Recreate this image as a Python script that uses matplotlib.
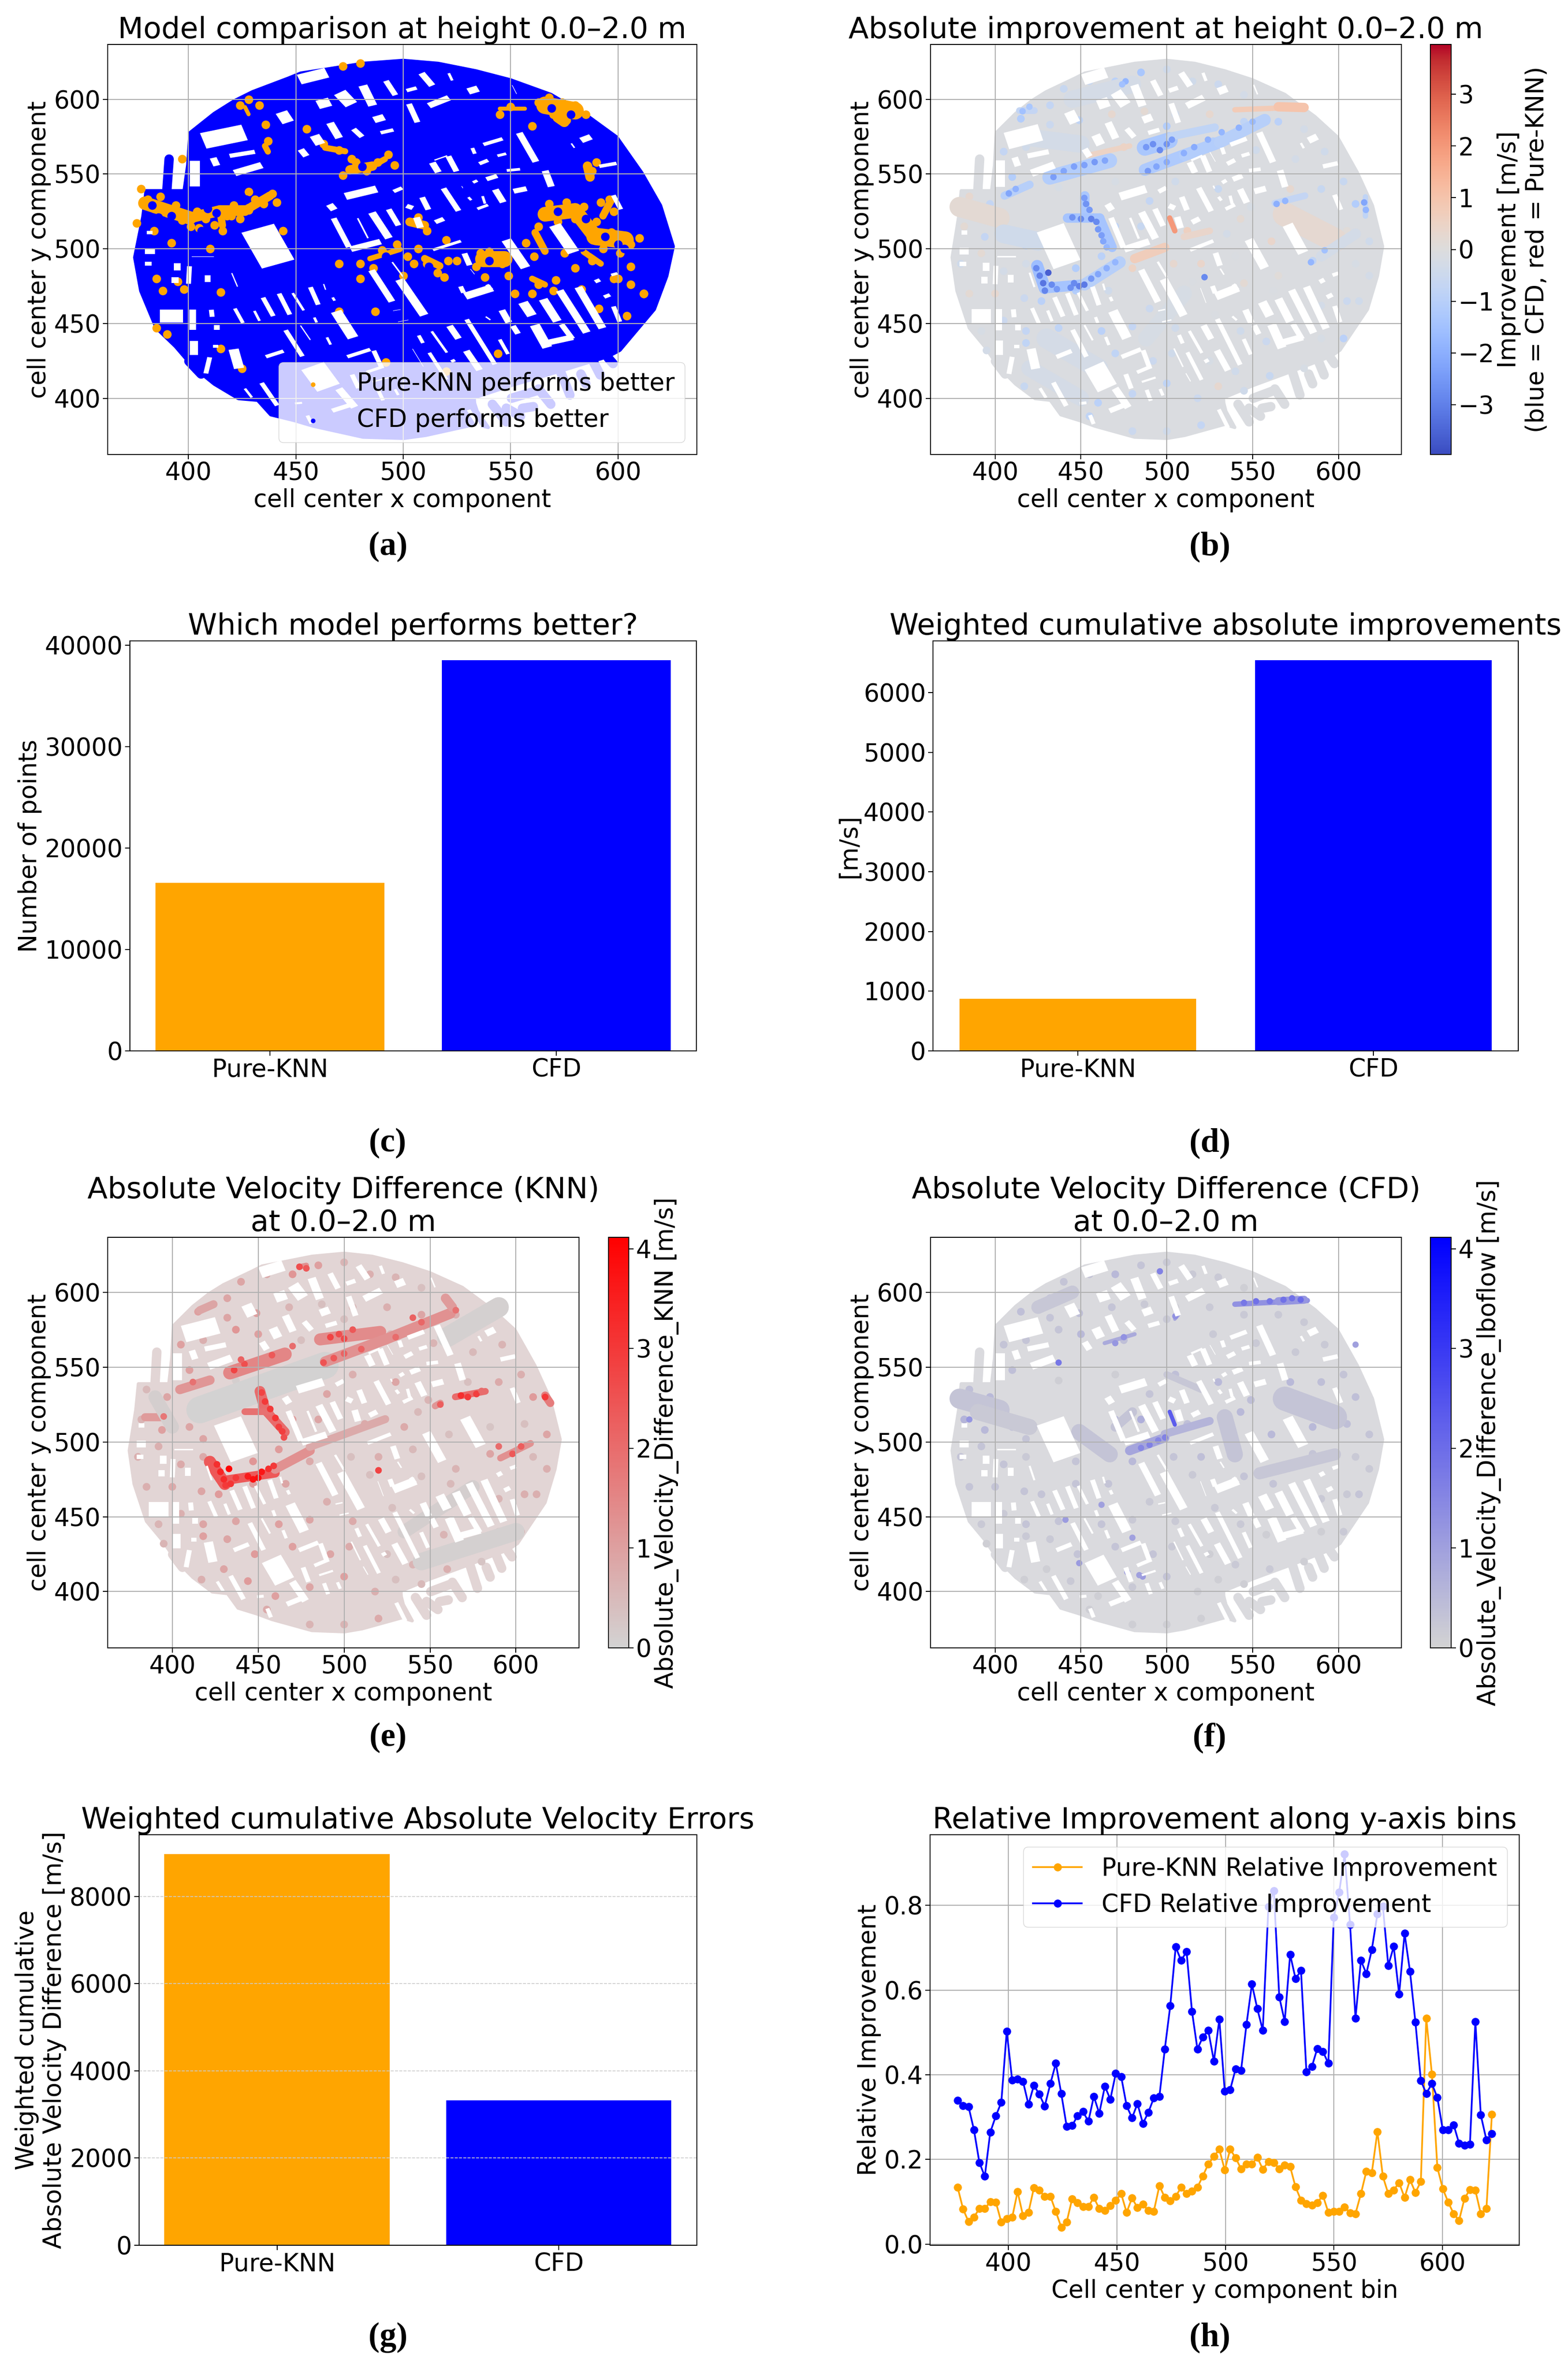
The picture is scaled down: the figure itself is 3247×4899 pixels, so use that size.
import numpy as np
import matplotlib
matplotlib.use('Agg')
import matplotlib.pyplot as plt
from matplotlib.colors import LinearSegmentedColormap, Normalize
from matplotlib.collections import LineCollection, PolyCollection
from matplotlib.cm import ScalarMappable

W, H = 3248, 4899
XY_LIM = (362.4, 636.7)

outline_x = [452.3,463.8,481.3,500,516.3,533.8,549.9,568.8,586.3,599.4,611,619.8,625.7,622.7,616.9,600.9,595.5,585.6,573.4,550.4,533,533.2,534.4,539.6,533.8,510.5,500.3,481.3,458,449.3,438.3,432.2,423.3,412,406.4,400,393.9,385,377.8,375,378.8,380.3,391.9,398,399.7,400.7,412,421.4,429.8,446.7]
outline_y = [617.5,620,624,626,624,619,613,603.2,588.4,574.7,551,528.9,501.6,481.8,459.5,432.2,428,423.7,418.3,408.6,400.3,396.8,391.4,380.5,382.6,375.2,373.2,374,381.4,385.1,389,398.7,399.8,409.5,416,424.5,434.7,447,471.9,494.2,521.4,538.8,538.8,538.8,556,577.6,590.5,599,605,614.2]

# streets sticking out of the edge (x0, y0, x1, y1)
stubs = [(541.5,396,548,384.2),(548,393.4,554.6,388),(555.5,393.3,560.6,394.4),(563,406.2,568.7,396),
         (573.4,417.2,577.6,402.2),(582.7,416.2,585,409.7),(588.4,424.8,591.7,415.6),(595.4,427,597.7,423.2),
         (550.4,400,563,405.4),(400.2,424.8,405.9,416.2),(390,540,391,560)]

# buildings, white gaps in the map (x0, y0, x1, y1, width)
buildings = [
    (406.3,572,426.7,578,12),(451,613,465,618,8),(443,592,446.7,584,7),(470,598.4,476.3,602.6,11),
    (481,609.8,486,595.2,5.5),(459.6,596,466.5,598.6,7),(491.7,612.9,496.6,602.2,4),(485.8,585.9,491.7,588.3,5.5),
    (465.7,584.8,470.4,573.5,5),(476.5,580.6,481.2,574.4,4),(488.9,577.4,496,579.7,3.5),(458.4,576.4,461.7,569.3,6),
    (452,567,455.2,561.4,4.5),(418.6,562,431.5,565,4),(420.9,550.4,434.7,556.2,5.5),(411.3,561.4,413.4,555,4.5),
    (403,559.5,403,541,6),(472.5,534.8,488.2,540.2,6),(464.7,526.6,468.8,529.1,5.5),(467.4,521,474.9,500.5,4),
    (478.6,521,483.8,506.5,2),(485.2,524.8,493.6,506.5,5),(475,499.5,490,505,5),(493,527,498,515,4),
    (495,538,500,541,3.5),(432,514.3,442,489.2,17.5),(508.2,618,513.8,608.6,4.5),(529.7,605,535.4,607.4,5.5),
    (511.4,595.4,521.8,601.3,5),(502.5,597.5,506.8,584,4),(521,618,523,612,2.5),(501,605.6,506.8,607.8,3.5),
    (536.8,569.5,546.8,573.8,3.5),(553.8,578.1,562,557.6,4.5),(582.3,572.2,587.9,575.2,5),(578,571,580,567,2),
    (590.7,555,599.9,557.3,3.5),(513.3,558.2,516.6,550.6,4.5),(520.8,562.5,525,551.2,4),(514,559,521,562.5,2),
    (525,565,528.5,558,1),(532,568,533.5,563,3),(543.3,562,548.5,563.8,3),(534.9,556.6,540,559.5,3.5),
    (547.6,552.3,555,553.3,3),(565.9,552.8,569.1,541,4.5),(538.2,546.3,544.3,549,4),(532,544,535,546,3),
    (527,542.5,528,540,1.5),(550.8,538.3,558,540.4,4.5),(542.6,540.2,546.8,530.5,4.5),(518.5,541,526,524.8,4),
    (530,535,532,532,2.5),(536.8,535.8,538.2,529.6,2.5),(534,526.4,540,529.6,3),(508.6,535,511.9,525.6,4),
    (501,529,505,527,4),(514.4,517.5,519.4,520.3,4),(506,521.6,508.2,513.5,4.5),(513.3,499,527.4,505.4,3),
    (547.7,506.5,557.2,486.8,6),(570.3,516.4,579.6,497,7),(597.6,536.4,601.5,525.8,3.5),(550.5,610,553,603,1.5),
    (528.3,497.5,531.1,488.4,4),(531,487,533.5,482.4,1.5),(498,480,510,455,5.5),(519.5,474,523,463.5,1),
    (528.3,468,541.9,474.1,6),(526.5,475.4,528.3,470,3.5),(538.6,476.5,541.5,472.2,3),(545.7,459.5,549.4,450.1,4.5),
    (550.8,449,553.7,442.6,4),(555.5,464.7,560.2,454.7,6),(564.9,466.8,572,450.9,5.5),(561,449.6,567.3,433.4,6),
    (565.4,436.6,579.5,441,5),(573.4,450,579,439.2,4),(572.6,472.7,585.7,443.4,5),(581.3,474.9,593,446.3,5),
    (588.8,477.6,592.1,479.5,3.5),(596.3,482.2,600.3,483.8,3),(593,467.4,596.8,469.5,3.5),(597.7,462,601,450.6,3.5),
    (538,455,541,452,2),(529.3,453.3,542.9,422.1,3.5),(521.3,449,526,439.3,4.5),(507,442.6,509.4,436.4,3),
    (513,445.3,520.6,430,2.5),(544.7,439.9,549,429,3),(504.1,433.6,509.6,420.7,1.5),(511.9,431,520.4,412,3),
    (521.8,424.2,524.6,425.9,3),(529.1,432.3,535.8,418.3,4.5),(511,417,514,411,1.2),(530.2,392.8,535.8,380,3),
    (401,494.8,412.5,494.8,1.5),(400.5,488.9,400,476,3.5),(409,483,409,477,4),(420,484.3,423,474.1,1.8),
    (414.5,487,419.5,473,0.6),(434.5,467.9,439.7,454.4,3.5),(442,470.6,447.4,455.4,3.5),(448.3,470.9,453.9,458.2,2.5),
    (421.4,460.6,425.6,449.8,3),(430.5,459,433.3,451.2,2.5),(402,460,402,445,4.5),(386,455,398,455,10),
    (410.6,459.8,411.1,453.9,3.5),(413.2,449.6,413.2,445,4),(458.4,454.6,459.9,450.1,2.5),(456.6,474.9,460.6,462,3.5),
    (462.8,477,464,472,1.8),(466.9,468,468.3,464.7,2.5),(468.5,458.7,476.9,439.9,6.5),(485,486.2,495,464.1,4.5),
    (494.6,491.6,500.2,480.8,2),(494.7,458.4,499.4,459.5,1.5),(497,451,503,452.5,1.5),(451.9,449.2,457,438.5,1.8),
    (445,446.1,453.3,427.5,3.5),(464.3,441.3,466.4,435.3,2.5),(435.5,427.5,444.8,431.8,3.5),(410.8,434.7,414.4,434.7,3),
    (402.5,438.8,402.5,428.5,5),(410,428,408,416,3.5),(420.9,433.4,423.7,419.4,6),(433.8,410.8,441.6,394.6,3.5),
    (426,407,429.8,400,2.5),(449,396.5,453.5,397,2.5),(457.5,422.1,465.5,406.5,13),(469.7,406.9,477.7,393.5,5),
    (466.4,391.4,478.1,396.8,4),(473.4,427.5,485.2,432.9,3.5),(486.1,432.4,490.3,419.4,3.5),(482.4,417.2,490.3,421,3),
    (476,416.4,479.4,406.2,3.5),(485.2,410.8,493.8,414,2),(488.2,405.9,490.8,398,3),(496,406.5,497.9,401.6,2.5),
    (455.2,389,457.5,382.5,3),(380,511,384,511,3.5),(379,498.5,385,498.5,5),(379,490,383.5,490,3.5),
    (392.5,488,397,488,6),(391.5,479,396,479,5),
]

# panel a: areas where Pure-KNN wins (x0, y0, x1, y1, line width)
knn_zones = [(379.7,530.5,400.7,520.6,20),(400.7,520.6,414.7,525.6,16),(414.7,525.6,426.3,525.6,16),(426.3,525.6,438,535.5,13),
             (415.8,515.7,414.7,525.6,11),(566,523.1,580,525.6,22),(580,525.6,589.3,508.3,22),(589.3,508.3,603.3,505.8,26),
             (566,596,580,592.3,26),(572,588,575,585,16),(475.2,552.8,485.7,555.3,14),(485.7,555.3,491.5,560,9),
             (484.5,493.4,498.5,499.6,8),(537,493.4,547,493.4,24),(510,493.4,517,488.5,11),(585.8,555.3,587,548,14),
             (561.4,510.8,566,498.4,11),(503,518,510,515.7,13),(463.6,567.6,473,565.2,9),(426.3,594.8,428,590,6),
             (435.6,568.8,437,565,9),(545,593.6,556.7,593.6,6),(597,533,593,522,11),(584,498,592,490,9),(560,480,566,476,9)]
knn_x = [381,384,387,390,394,397,401,404,408,412,416,418,421,424,428,431,435,439,441,376,563,568,572,576,580,584,586,590,593,597,601,606,598,592,610,588,580,571,560,557,561,563,568,574,580,585,570,576,472,478,483,488,493,496,480,486,491,497,502,507,511,516,521,534,540,546,549,536,511,507,520,463,470,476,428,424,437,388,385,415,395,600,612,606,604,560,550,545,472,480,590,588,596,425,415,470,487,492,544,520,378,460,384,392,398,405,410,420,428,436,444,470,480,490,500,505,519,525,538,545,552,563,570,575,583,591,598,606,612,385,390,397,433,455]
knn_y = [533,527,535,524,529,519,515,525,520,516,512,522,529,520,526,533,530,537,531,517,515,530,518,531,520,528,512,518,500,511,497,503,525,531,507,492,487,479,470,504,495,598,601,598,596,590,590,586,549,558,552,558,563,556,490,487,497,503,495,500,490,484,492,488,498,490,482,497,512,521,506,570,566,560,600,596,572,472,480,471,478,480,470,488,455,582,595,590,622,624,558,552,533,420,433,458,458,424,430,418,540,420,512,504,473,514,500,522,538,583,512,490,480,499,482,490,481,492,481,491,470,476,472,497,473,460,480,476,470,447,443,560,596,580]
cfd_over_x = [383,392,399,406,413,420,427,433,572,579,585,594,600,569,578,481,492,512,540,588,566,603,386,409,583]
cfd_over_y = [529,522,530,512,524,512,533,524,525,514,520,508,503,594,590,555,495,488,492,500,510,500,521,527,501]

# positions of the tinted dots shown in b, e and f, row by row from the top of the map
tint_x = [440,455,470,485,500,515,530,545,432, 415,432,449,468,487,505,525,545,565,580, 405,418,437,450,475,500,527,552,575,592,603,
          385,397,410,437,470,490,505,530,549,572,590,610, 382,394,410,418,470,485,512,535,543,561,585,605,618,
          380,392,405,418,447,462,480,504,520,540,565,585,610,618, 385,400,417,427,447,466,490,515,545,562,590,605,612,
          392,405,418,437,462,480,505,528,543,558,590,603, 395,418,432,448,470,492,503,525,540,560,580,
          417,430,444,460,480,500,518,530,545,455,480,500,520]
tint_y = [607,612,612,618,620,612,610,603,596, 587,583,586,590,592,590,590,585,585,580, 565,568,575,572,568,582,572,566,560,565,545,
          535,530,548,541,545,532,545,540,528,540,540,530, 515,508,510,502,515,515,512,510,520,505,510,512,505,
          490,497,485,490,487,495,487,490,490,495,482,492,490,482, 470,470,467,465,472,472,460,478,477,472,462,465,465,
          445,452,445,447,445,448,447,456,445,438,440,440, 432,437,435,425,430,425,430,425,418,415,420,
          408,415,407,397,403,410,400,408,405,388,378,378,382]
tint_b = [-.6,-.5,-.9,-1.3,-.4,-.4,-.5,-.3,-.7, -1.1,-.5,-.8,.3,.2,-.4,.3,-.8,-.9,-.3, -.7,-.4,-.9,-1,.5,-1.1,-1,-.4,-.3,-.4,-.6,
          .3,-.7,-1.1,-.2,-.2,-.7,-.4,-.6,-.2,.3,-.6,-1.1, .2,-.7,-1,-.8,-.8,-.6,.6,-.3,.2,.4,.4,.1,-.4,
          -.4,.2,-.3,-.3,-1.1,-.9,.5,.3,.4,-.1,.1,-.8,-.2,-.3, .2,.3,-.5,-.9,-1.1,-.4,-.5,-.1,.2,-.1,-.3,-.5,-.4,
          -.2,-.5,-.7,-.8,-.9,-.7,-.4,-.1,-.4,-.5,-.2,-.9, -.3,-.8,-.6,-.9,-.8,-.5,-.4,-.2,-.4,-.6,-.2,
          -.6,-.5,-.9,-.9,-.7,-.8,-.5,.3,-.4,-.8,-.5,-.4,-.7]
tint_e = [.9,.8,1.2,1.0,.6,.7,.6,.4,.9, 1.0,.9,1.0,.6,.4,.5,.7,.9,.7,.5, 1.0,.7,1.2,1.0,.4,.4,.5,.6,.5,.6,.7,
          .5,.9,1.0,.1,.1,.9,.7,.9,.6,.4,.8,1.1, .6,1.0,.9,.9,1.0,.9,.8,.8,.5,.4,.3,.4,.9,
          .7,.7,.8,.8,1.2,1.1,.8,.4,.7,.5,.6,.9,.5,.7, .7,.8,.9,1.1,1.1,.9,.7,.4,.4,.5,.6,.7,.7,
          .6,.7,.9,.9,1.0,.9,.8,.4,.7,.6,.4,1.0, .6,1.0,.9,1.1,1.0,.9,.8,.4,.6,.7,.3,
          .7,.9,1.1,1.0,.9,1.0,.7,.4,.5,.8,.6,.6,.8]
tint_f = [.3,.3,.5,.3,.2,.2,.2,.1,.4, .4,.3,.4,.3,.2,.1,.2,.2,.2,.2, .3,.3,.3,.5,.4,.2,.2,.2,.2,.2,.3,
          .4,.5,.4,.1,.1,.3,.4,.5,.4,.5,.4,.4, .6,.5,.4,.3,.5,.7,.4,.5,.5,.5,.5,.4,.3,
          .3,.3,.3,.2,.3,.6,.5,.3,.4,.4,.5,.3,.2,.2, .3,.3,.3,.3,.3,.3,.2,.2,.3,.3,.2,.2,.3,
          .2,.2,.3,.3,.3,.2,.2,.2,.2,.1,.1,.2, .1,.2,.2,.3,.3,.3,.2,.1,.2,.2,.1,
          .1,.1,.2,.1,.2,.3,.1,.1,.1,.1,.1,.1,.1]

# panel b: bands of improvement (x0, y0, x1, y1, value, line width)
impr_bands = [(431.8,547.8,466.8,559,-1.1,22),(487.2,567.6,501.7,572.6,-1.3,24),(487.2,552.8,510.5,562.7,-1.2,18),(510.5,562.7,530.9,571.3,-1.1,18),
              (530.9,571.3,557.1,586.2,-1.0,18),(501.7,575,528,581.2,-.8,12),(405.5,535.5,420.1,542.9,-1,12),(414.3,592.3,423,592.3,-0.7,10),
              (452.2,535.6,452.2,525.6,-1.3,14),(442,520.6,460.9,520.6,-1.4,14),(460.9,520.6,468.2,500.9,-1.4,14),(424.5,488.5,428.9,473.7,-1.6,18),
              (428.9,473.7,452.2,476.1,-1.4,16),(452.2,476.1,472.6,491,-1.0,18),(563,530.5,580.5,535.5,-0.7,10),(615.5,535,615.5,522,-0.8,8),
              (539.7,593,580.5,594.8,0.8,8),(565,595,580,594.5,1.0,14),(501.7,520.6,504.7,512,2.0,8),(481.3,493.4,498.8,500.9,0.7,14),
              (478.4,568.8,455,562.7,0.5,8),(568.8,523,597.9,505.8,0.25,36),(379.3,528,402.6,520.6,0.2,30),(510,508,525,512,0.4,10),
              (405,510,425,505,-0.4,28),(430,440,460,420,-0.25,30),(590,495,610,510,-0.3,16),(420,420,450,400,-0.25,24),(488,440,510,470,-0.2,24),
              (445,600,480,610,-0.25,26),(416,575,450,570,-0.3,26)]
impr_x = [424,426,428,431,429,433,436,444,449,452,446,456,460,465,470,452,453,455,445,450,456,459,460,462,463,465,434,440,446,452,458,464,488,492,496,500,503,489,494,500,510,516,524,532,542,550,408,412,564,569,615,616,522,584,592,416,420,476,474]
impr_y = [487,482,477,484,472,476,473,474,475,476,477,480,483,487,491,534,530,526,521,520,520,518,513,509,505,501,548,552,555,556,558,559,568,570,566,570,573,552,555,558,564,568,573,578,581,585,537,540,530,532,531,526,481,491,499,592,595,612,610]
impr_v = [-2.8,-3.0,-3.2,-3.6,-2.9,-2.8,-2.5,-2.7,-3.0,-3.1,-2.8,-2.5,-2.2,-2,-1.8,-2.4,-2.6,-2.5,-2.6,-2.8,-3.0,-2.8,-2.5,-2.4,-2.2,-1.8,-2.4,-2.2,-2.3,-2.3,-2.5,-2.2,-2.5,-2.7,-2.8,-2.6,-2.4,-2.5,-2.2,-2.1,-2,-2.1,-1.9,-1.8,-1.9,-1.7,-2.2,-1.9,-2,-1.8,-2.2,-1.8,-2.8,-1.8,-1.5,-1.5,-1.3,-1.8,-1.5]

# panel e: KNN error bands
knn_bands = [(416,521.4,489,551.2,0.03,40),(404.4,535,421.9,541.3,1.2,14),(433.5,546.2,465.6,558.6,1.5,20),(486,568.5,521,573.5,1.4,18),
             (489,553.6,524,568.5,1.3,16),(524,568.5,561.8,585.9,1.3,16),(451,533.8,454,521.4,2.0,16),(454,521.4,465.6,506.6,2.0,14),
             (442.3,520.2,456.9,520.2,1.9,10),(421.9,486.7,430.6,471.9,2.4,18),(430.6,474.3,459.8,479.3,2.4,14),(459.8,481.8,480.2,494.2,1.3,14),
             (480,496.7,523.9,515.2,0.8,12),(564.7,530.1,582.2,533.8,2.0,10),(591,489.2,608.5,499,1.3,10),(617,531,620,526,1.7,12),
             (553,524,556,526,1.2,10),(384,516.5,393,516.5,1.1,12),(416,588,424,592,0.9,12),(474,617,478,618,1.3,8),(559,596,563,590,1.1,14),
             (535,440,575,470,0.1,20),(545,420,600,440,0.08,26),(590,590,560,570,0.08,30),(390,530,400,510,0.1,20)]
knn_px = [426,428,430,433,431,434,437,444,447,450,452,456,459,452,454,457,460,462,464,465,492,497,500,505,488,494,500,568,572,577,520,617,436,442,556,598,603,474,478,440,458,470,510,530,545,540,565,580,590,395,412]
knn_py = [485,480,475,482,471,472,476,477,475,476,480,482,484,533,527,522,516,510,507,503,570,572,569,575,553,556,559,531,530,532,481,530,548,552,525,492,497,617,616,555,558,564,562,570,580,583,588,534,497,517,540]
knn_pv = [3.2,3.4,3.3,4.0,3.0,3.1,3.0,3.6,3.8,3.9,3.7,3.2,3.0,2.8,3.0,3.0,3.1,2.9,2.9,2.6,2.8,2.6,2.7,2.4,2.5,2.4,2.2,3.2,3.0,2.9,2.8,3.0,2.8,2.6,2.3,2.4,2.3,2.6,2.4,2.2,2.4,2.0,2.2,2.0,2.1,2.2,1.9,2.0,2.0,1.8,1.9]

# panel f: CFD error bands
cfd_bands = [(539.7,592,581.9,594.5,1.3,8),(565,594,580,595,1.2,12),(478.4,494.2,498.8,502.8,0.9,14),(498.8,505.3,525,514,0.6,12),(463.8,566,481.3,572,0.8,6),
             (504.7,582,507,585,0.9,5),(568.8,528.9,598,516.5,0.3,36),(533.8,516.5,539.7,491.7,0.3,24),(554,479,598,491.7,0.25,18),(379.3,528.9,402.6,521.4,0.3,30),
             (449,506.6,466.8,491.7,0.3,24),(390,520,420,510,0.2,24),(500,545,520,535,0.25,10),(470,510,480,520,0.3,14),(425,590,445,600,0.25,20),
             (501.7,520.2,504.7,511.5,2.3,6)]
cfd_px = [545,552,560,568,573,578,485,490,495,499,437,496,385,441,470,475,505,462,486,480,610,449,477,484]
cfd_py = [593,594,594,595,596,595,496,498,501,503,553,614,515,448,566,570,584,458,410,436,565,419,413,411]
cfd_pv = [1.8,1.9,1.8,1.9,1.9,2.0,1.5,1.6,1.5,1.6,1.8,1.6,1.2,1.1,1.2,1.3,1.3,1.0,1.1,1.0,1.0,1.1,1.0,1.0]

models = ['Pure-KNN', 'CFD']
better_counts = [16560, 38500]
abs_improvements = [877, 6537]
abs_errors = [8966, 3322]

y_bins = [376.7,379.2,381.7,384.2,386.7,389.2,391.7,394.3,396.8,399.3,401.8,404.3,406.8,409.3,411.8,414.3,416.8,419.4,421.9,424.4,426.9,429.4,431.9,434.4,436.9,439.4,441.9,444.5,447.0,449.5,452.0,454.5,457.0,459.5,462.0,464.5,467.0,469.6,472.1,474.6,477.1,479.6,482.1,484.6,487.1,489.6,492.1,494.7,497.2,499.7,502.2,504.7,507.2,509.7,512.2,514.7,517.2,519.8,522.3,524.8,527.3,529.8,532.3,534.8,537.3,539.8,542.3,544.9,547.4,549.9,552.4,554.9,557.4,559.9,562.4,564.9,567.4,570.0,572.5,575.0,577.5,580.0,582.5,585.0,587.5,590.0,592.5,595.1,597.6,600.1,602.6,605.1,607.6,610.1,612.6,615.1,617.6,620.2,622.7]
knn_rel = [.134,.083,.053,.064,.084,.084,.100,.099,.052,.060,.063,.124,.067,.075,.133,.127,.113,.113,.077,.040,.052,.107,.098,.089,.089,.110,.084,.080,.091,.103,.119,.075,.109,.086,.094,.079,.077,.138,.110,.102,.113,.134,.119,.125,.134,.161,.189,.207,.224,.175,.224,.204,.178,.189,.189,.205,.177,.195,.193,.178,.187,.183,.135,.104,.096,.092,.098,.115,.075,.077,.077,.087,.074,.072,.119,.172,.168,.266,.160,.119,.128,.145,.110,.152,.122,.148,.533,.401,.181,.131,.099,.072,.056,.108,.129,.127,.072,.084,.306]
cfd_rel = [.340,.327,.325,.270,.193,.160,.264,.303,.335,.503,.387,.390,.384,.330,.375,.354,.326,.379,.427,.356,.278,.280,.303,.313,.290,.349,.309,.373,.342,.403,.396,.327,.298,.332,.285,.311,.345,.349,.461,.563,.702,.670,.691,.550,.461,.489,.505,.432,.531,.361,.365,.414,.410,.519,.614,.556,.505,.797,.835,.584,.526,.684,.627,.646,.407,.419,.462,.455,.427,.772,.831,.921,.755,.534,.670,.639,.695,.780,.798,.658,.703,.590,.734,.644,.524,.386,.356,.379,.346,.270,.270,.282,.238,.233,.236,.526,.305,.246,.261]

plt.rcParams['font.size'] = 36.5
plt.rcParams['axes.titlesize'] = 44
plt.rcParams['axes.linewidth'] = 1.4
plt.rcParams['xtick.major.width'] = 1.4
plt.rcParams['ytick.major.width'] = 1.4
plt.rcParams['xtick.major.size'] = 7
plt.rcParams['ytick.major.size'] = 7
plt.rcParams['grid.linewidth'] = 1.5

fig = plt.figure(figsize=(W / 100, H / 100), dpi=100)


def add_ax(l, t, r, b):
    return fig.add_axes([l / W, 1 - b / H, (r - l) / W, (b - t) / H])


def building_polys(shrink):
    polys = []
    for x0, y0, x1, y1, w in buildings:
        p0, p1 = np.array([x0, y0]), np.array([x1, y1])
        length = np.hypot(*(p1 - p0))
        u = (p1 - p0) / length
        v = np.array([-u[1], u[0]])
        hl = length / 2 - shrink / 2
        hw = w / 2 - shrink / 2
        if hl <= 0 or hw <= 0:
            continue
        c = (p0 + p1) / 2
        polys.append([c - u * hl - v * hw, c + u * hl - v * hw, c + u * hl + v * hw, c - u * hl + v * hw])
    return polys


# map footprint with the buildings left white
def draw_map(ax, color, edge, shrink):
    ax.fill(outline_x, outline_y, color=color, lw=edge, joinstyle='round', zorder=0.2)
    segs = [[(s[0], s[1]), (s[2], s[3])] for s in stubs]
    ax.add_collection(LineCollection(segs, colors=color, linewidths=edge + 9, capstyle='round', zorder=0.2))
    ax.add_collection(PolyCollection(building_polys(shrink), facecolors='white', edgecolors='none', zorder=0.7))
    ax.set_xlim(XY_LIM)
    ax.set_ylim(XY_LIM)
    ax.set_xticks([400, 450, 500, 550, 600])
    ax.set_yticks([400, 450, 500, 550, 600])
    ax.grid(True)
    ax.set_xlabel('cell center x component')
    ax.set_ylabel('cell center y component')


def draw_bands(ax, bands, cmap, norm):
    segs = [[(b[0], b[1]), (b[2], b[3])] for b in bands]
    colors = [cmap(norm(b[4])) for b in bands]
    widths = [b[5] for b in bands]
    ax.add_collection(LineCollection(segs, colors=colors, linewidths=widths, capstyle='round', zorder=0.4))


def add_cbar(l, t, r, b, cmap, norm, ticks, label):
    cax = add_ax(l, t, r, b)
    cbar = fig.colorbar(ScalarMappable(norm=norm, cmap=cmap), cax=cax)
    cbar.set_ticks(ticks)
    cbar.set_label(label)
    return cbar


def bar_panel(ax, values, title, ylabel):
    ax.bar(models, values, color=['orange', 'blue'])
    ax.set_title(title)
    ax.set_ylabel(ylabel)


# (a)
ax = add_ax(223, 92, 1443, 941)
draw_map(ax, 'blue', 5, 1.2)
zone_segs = [[(z[0], z[1]), (z[2], z[3])] for z in knn_zones]
ax.add_collection(LineCollection(zone_segs, colors='orange', linewidths=[z[4] for z in knn_zones], capstyle='round', zorder=0.3))
ax.scatter(knn_x, knn_y, s=140, color='orange', label='Pure-KNN performs better', zorder=0.35)
ax.scatter(cfd_over_x, cfd_over_y, s=140, color='blue', label='CFD performs better', zorder=0.4)
ax.legend(loc='lower right', markerscale=0.5, fontsize=36.5)
ax.set_title('Model comparison at height 0.0–2.0 m')

# (b)
norm_b = Normalize(-3.96, 3.96)
ax = add_ax(1927, 92, 2902, 941)
draw_map(ax, plt.cm.coolwarm(norm_b(-0.08)), 5, 0.6)
ax.scatter(tint_x, tint_y, c=tint_b, cmap='coolwarm', norm=norm_b, s=110, zorder=0.3)
draw_bands(ax, impr_bands, plt.cm.coolwarm, norm_b)
ax.scatter(impr_x, impr_y, c=impr_v, cmap='coolwarm', norm=norm_b, s=75, zorder=0.5)
ax.set_title('Absolute improvement at height 0.0–2.0 m')
add_cbar(2962, 92, 3005, 941, plt.cm.coolwarm, norm_b, [-3, -2, -1, 0, 1, 2, 3],
         'Improvement [m/s]\n(blue = CFD, red = Pure-KNN)')

# (c)
ax = add_ax(269, 1327, 1442, 2176)
bar_panel(ax, better_counts, 'Which model performs better?', 'Number of points')

# (d)
ax = add_ax(1932, 1327, 3144, 2176)
bar_panel(ax, abs_improvements, 'Weighted cumulative absolute improvements', '[m/s]')

# (e)
norm_v = Normalize(0, 4.115)
grey_red = LinearSegmentedColormap.from_list('grey_red', ['lightgrey', 'red'])
grey_blue = LinearSegmentedColormap.from_list('grey_blue', ['lightgrey', 'blue'])
ax = add_ax(223, 2562, 1199, 3412)
draw_map(ax, '#e2d5d5', 5, 0.6)
ax.scatter(tint_x, tint_y, c=tint_e, cmap=grey_red, norm=norm_v, s=110, zorder=0.3)
draw_bands(ax, knn_bands, grey_red, norm_v)
ax.scatter(knn_px, knn_py, c=knn_pv, cmap=grey_red, norm=norm_v, s=80, zorder=0.5)
ax.set_title('Absolute Velocity Difference (KNN)\nat 0.0–2.0 m')
add_cbar(1260, 2562, 1302, 3412, grey_red, norm_v, [0, 1, 2, 3, 4], 'Absolute_Velocity_Difference_KNN [m/s]')

# (f)
ax = add_ax(1927, 2562, 2902, 3412)
draw_map(ax, '#dadade', 5, 0.6)
ax.scatter(tint_x, tint_y, c=tint_f, cmap=grey_blue, norm=norm_v, s=110, zorder=0.3)
draw_bands(ax, cfd_bands, grey_blue, norm_v)
ax.scatter(cfd_px, cfd_py, c=cfd_pv, cmap=grey_blue, norm=norm_v, s=70, zorder=0.5)
ax.set_title('Absolute Velocity Difference (CFD)\nat 0.0–2.0 m')
add_cbar(2962, 2562, 3005, 3412, grey_blue, norm_v, [0, 1, 2, 3, 4], 'Absolute_Velocity_Difference_lboflow [m/s]')

# (g)
ax = add_ax(288, 3799, 1443, 4649)
bar_panel(ax, abs_errors, 'Weighted cumulative Absolute Velocity Errors',
          'Weighted cumulative\nAbsolute Velocity Difference [m/s]')
ax.grid(True, axis='y', linestyle='--', color='#cccccc', lw=1.2)

# (h)
ax = add_ax(1926, 3799, 3146, 4649)
ax.plot(y_bins, knn_rel, '-o', color='orange', lw=2.6, ms=11, label='Pure-KNN Relative Improvement')
ax.plot(y_bins, cfd_rel, '-o', color='blue', lw=2.6, ms=11, label='CFD Relative Improvement')
ax.set_xlim(364, 635.3)
ax.set_ylim(-0.0026, 0.967)
ax.set_title('Relative Improvement along y-axis bins')
ax.set_xlabel('Cell center y component bin')
ax.set_ylabel('Relative Improvement')
ax.grid(True)
ax.legend(loc='upper right', fontsize=36.5)

# panel captions
captions = ['(a)', '(b)', '(c)', '(d)', '(e)', '(f)', '(g)', '(h)']
for i, cap in enumerate(captions):
    cx = 803 if i % 2 == 0 else 2505
    cy = [1132, 1132, 2367, 2367, 3598, 3598, 4840, 4840][i]
    fig.text(cx / W, 1 - cy / H, cap, ha='center', va='center', family='Liberation Serif', weight='bold', fontsize=50)

fig.savefig('out.png', dpi=100)
